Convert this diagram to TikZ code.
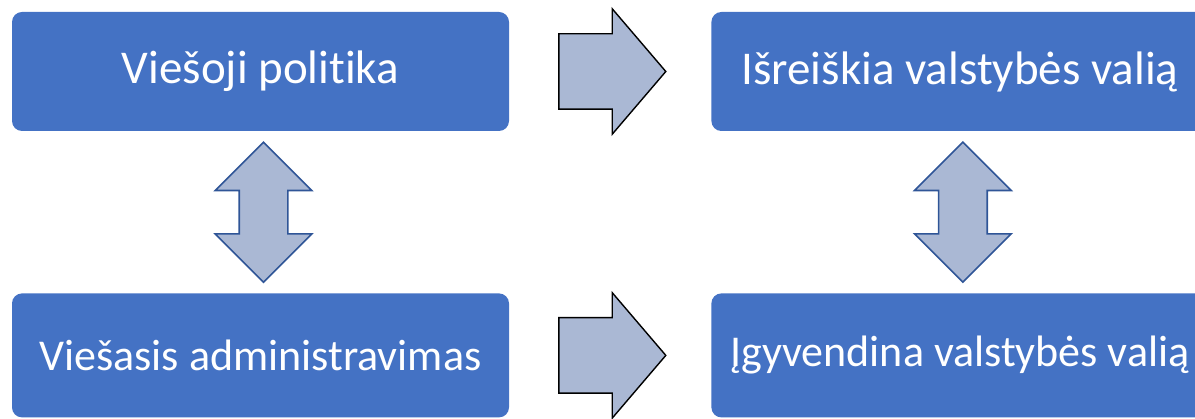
\documentclass[tikz,border=0pt]{standalone}
\usepackage{fontspec}
\setmainfont{Carlito}[Ligatures=NoCommon]
\usepackage{xcolor}
\usetikzlibrary{positioning,calc,shapes.arrows}
\definecolor{boxblue}{HTML}{4472C4}
\definecolor{arrowfill}{HTML}{AAB8D4}
\definecolor{arrowedge}{HTML}{2F5597}

\begin{document}
\begin{tikzpicture}[node distance=202pt,
    main node/.style={rectangle,rounded corners=10pt,fill=boxblue,text=white,
      minimum width=497pt,minimum height=119pt,inner sep=0pt,
      font=\fontsize{47}{56}\selectfont},
    low node/.style={main node,minimum height=124pt,font=\fontsize{44}{53}\selectfont},
    right block/.style={single arrow,draw=black,fill=arrowfill,line width=1.4pt,
      minimum height=107pt,minimum width=124pt,single arrow head extend=25pt,
      single arrow tip angle=99,inner xsep=0pt,inner ysep=37pt},
    both block/.style={double arrow,draw=arrowedge,fill=arrowfill,line width=1.6pt,
      rotate=90,minimum height=140pt,minimum width=95pt,double arrow head extend=24pt,
      double arrow tip angle=90,inner xsep=0pt,inner ysep=23.5pt}]
  \useasboundingbox (0,0) rectangle (1195pt,-419pt);
  \node[main node] (pol) at (260.5pt,-71.5pt) {Viešoji politika};
  \node[main node] (isr) [right=of pol] {Išreiškia valstybės valią};
  \node[low node] (adm) [below=162pt of pol] {Viešasis administravimas};
  \node[low node] (igy) [right=of adm] {Įgyvendina valstybės valią};
  % block arrows between the boxes
  \node[right block,xshift=-14pt] (pol_isr) at ($(pol.east)!0.5!(isr.west)$) {};
  \node[right block,xshift=-14pt] (adm_igy) at ($(adm.east)!0.5!(igy.west)$) {};
  \node[both block,yshift=-3pt] (pol_adm) at ($(pol.south)!0.5!(adm.north)$) {};
  \node[both block,yshift=-3pt] (isr_igy) at ($(isr.south)!0.5!(igy.north)$) {};
\end{tikzpicture}
\end{document}
